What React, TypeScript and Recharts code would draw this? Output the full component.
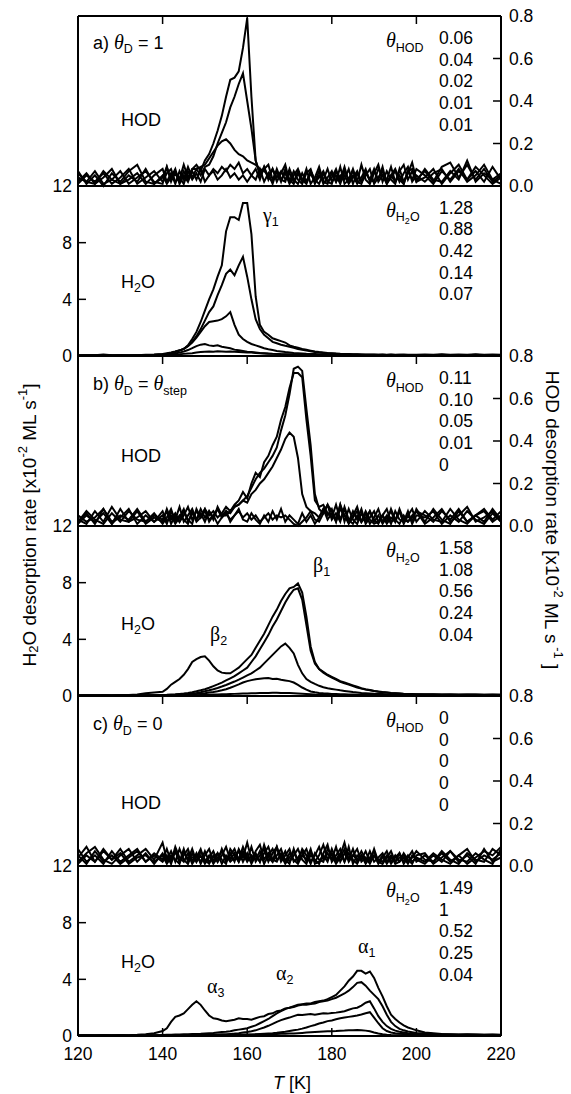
import { LineChart, Line, XAxis, YAxis } from "recharts";

// temperature grid [K]
const temps = [
  120, 122, 124, 126, 128, 130, 132, 134, 136, 138,
  140, 141, 142, 143, 144, 145, 146, 147, 148, 149, 150, 151, 152, 153, 154, 155, 156, 157, 158, 159,
  160, 161, 162, 163, 164, 165, 166, 167, 168, 169, 170, 171, 172, 173, 174, 175, 176, 177, 178, 179,
  180, 181, 182, 183, 184, 185, 186, 187, 188, 189, 190, 191, 192, 193, 194, 195, 196, 197, 198, 199, 200,
  202, 204, 206, 208, 210, 212, 214, 216, 218, 220,
];

// ---- a) theta_D = 1 ----
const aHod1 = [
  0.07, 0.01, 0.05, 0.0, 0.06, 0.02, 0.07, 0.1, 0.02, 0.01,
  0.04, 0.09, 0.02, 0.07, 0.03, 0.1, 0.04, 0.08, 0.1, 0.07, 0.12, 0.15, 0.2, 0.26, 0.33, 0.42, 0.5, 0.51, 0.54, 0.65,
  0.79, 0.42, 0.12, 0.06, 0.08, 0.1, 0.03, 0.07, 0.02, 0.08, 0.03, 0.01, 0.06, 0.02, 0.08, 0.01, 0.04, 0.09, 0.02, 0.01,
  0.06, 0.02, 0.09, 0.01, 0.03, 0.07, 0.02, 0.1, 0.03, 0.01, 0.06, 0.1, 0.02, 0.07, 0.03, 0.01, 0.08, 0.02, 0.06, 0.11, 0.03,
  0.07, 0.02, 0.09, 0.11, 0.04, 0.1, 0.03, 0.08, 0.02, 0.05,
];
const aHod2 = [
  0.02, 0.06, 0.01, 0.04, 0.08, 0.01, 0.03, 0.06, 0.01, 0.05,
  0.08, 0.02, 0.06, 0.01, 0.07, 0.03, 0.09, 0.04, 0.08, 0.05, 0.09, 0.1, 0.14, 0.2, 0.25, 0.3, 0.37, 0.42, 0.48, 0.53,
  0.4, 0.27, 0.12, 0.05, 0.09, 0.03, 0.08, 0.02, 0.06, 0.1, 0.02, 0.07, 0.03, 0.01, 0.06, 0.08, 0.02, 0.04, 0.07, 0.02,
  0.01, 0.07, 0.03, 0.09, 0.02, 0.05, 0.01, 0.04, 0.08, 0.02, 0.07, 0.03, 0.09, 0.01, 0.05, 0.02, 0.07, 0.1, 0.03, 0.07, 0.02,
  0.04, 0.08, 0.01, 0.06, 0.1, 0.03, 0.07, 0.02, 0.09, 0.03,
];
const aHod3 = [
  0.04, 0.02, 0.07, 0.01, 0.03, 0.07, 0.01, 0.04, 0.07, 0.02,
  0.01, 0.09, 0.03, 0.06, 0.02, 0.07, 0.03, 0.08, 0.08, 0.09, 0.1, 0.13, 0.16, 0.19, 0.21, 0.22, 0.2, 0.17, 0.15, 0.14,
  0.12, 0.11, 0.1, 0.08, 0.07, 0.05, 0.08, 0.04, 0.07, 0.03, 0.06, 0.02, 0.07, 0.03, 0.01, 0.06, 0.02, 0.07, 0.01, 0.04,
  0.07, 0.02, 0.05, 0.03, 0.08, 0.01, 0.06, 0.02, 0.07, 0.03, 0.02, 0.08, 0.05, 0.01, 0.04, 0.07, 0.02, 0.06, 0.09, 0.02, 0.05,
  0.02, 0.06, 0.08, 0.02, 0.07, 0.03, 0.09, 0.05, 0.01, 0.04,
];
const aHod4 = [
  0.01, 0.05, 0.02, 0.06, 0.01, 0.04, 0.08, 0.01, 0.04, 0.07,
  0.02, 0.06, 0.08, 0.02, 0.04, 0.01, 0.07, 0.03, 0.06, 0.02, 0.08, 0.05, 0.08, 0.06, 0.09, 0.07, 0.1, 0.08, 0.11, 0.06,
  0.08, 0.05, 0.03, 0.08, 0.02, 0.06, 0.01, 0.07, 0.03, 0.02, 0.08, 0.03, 0.01, 0.06, 0.02, 0.07, 0.03, 0.01, 0.06, 0.02,
  0.04, 0.08, 0.02, 0.05, 0.01, 0.04, 0.07, 0.02, 0.05, 0.08, 0.01, 0.04, 0.07, 0.02, 0.05, 0.08, 0.03, 0.01, 0.07, 0.03, 0.08,
  0.05, 0.01, 0.07, 0.03, 0.08, 0.02, 0.05, 0.1, 0.03, 0.06,
];
const aHod5 = [
  0.06, 0.02, 0.01, 0.07, 0.03, 0.01, 0.05, 0.02, 0.08, 0.01,
  0.05, 0.01, 0.04, 0.08, 0.01, 0.05, 0.02, 0.07, 0.03, 0.08, 0.02, 0.05, 0.07, 0.03, 0.05, 0.08, 0.04, 0.06, 0.03, 0.05,
  0.02, 0.05, 0.08, 0.03, 0.09, 0.04, 0.02, 0.08, 0.03, 0.06, 0.01, 0.05, 0.08, 0.03, 0.02, 0.07, 0.01, 0.05, 0.03, 0.08,
  0.02, 0.05, 0.01, 0.07, 0.03, 0.08, 0.02, 0.01, 0.06, 0.03, 0.08, 0.02, 0.05, 0.03, 0.09, 0.02, 0.05, 0.01, 0.07, 0.08, 0.02,
  0.08, 0.03, 0.02, 0.07, 0.03, 0.12, 0.02, 0.06, 0.03, 0.01,
];
const aH2o1 = [
  0.05, 0.06, 0.05, 0.1, 0.05, 0.04, 0.05, 0.06, 0.08, 0.1,
  0.15, 0.2, 0.25, 0.32, 0.4, 0.5, 0.75, 1.2, 1.7, 2.4, 3.2, 4.0, 4.7, 5.6, 6.4, 8.8, 9.8, 9.8, 9.6, 10.8,
  10.8, 8.6, 4.2, 2.2, 1.7, 1.5, 1.25, 1.15, 1.05, 0.95, 0.75, 0.65, 0.58, 0.5, 0.44, 0.38, 0.32, 0.28, 0.25, 0.22,
  0.2, 0.18, 0.16, 0.15, 0.14, 0.12, 0.12, 0.11, 0.1, 0.1, 0.1, 0.09, 0.1, 0.08, 0.1, 0.09, 0.08, 0.1, 0.08, 0.09, 0.08,
  0.1, 0.08, 0.12, 0.08, 0.1, 0.09, 0.12, 0.08, 0.1, 0.09,
];
const aH2o2 = [
  0.04, 0.05, 0.06, 0.04, 0.05, 0.06, 0.04, 0.05, 0.07, 0.08,
  0.12, 0.16, 0.22, 0.3, 0.4, 0.5, 0.7, 1.0, 1.4, 1.9, 2.5, 3.1, 3.5, 4.3, 5.0, 5.8, 6.1, 5.7, 6.4, 7.0,
  5.6, 4.0, 2.6, 1.9, 1.5, 1.25, 1.0, 0.9, 0.8, 0.72, 0.65, 0.58, 0.5, 0.44, 0.38, 0.33, 0.28, 0.25, 0.22, 0.2,
  0.18, 0.16, 0.15, 0.13, 0.12, 0.11, 0.1, 0.1, 0.09, 0.09, 0.08, 0.09, 0.08, 0.07, 0.08, 0.07, 0.08, 0.07, 0.06, 0.07, 0.06,
  0.07, 0.06, 0.08, 0.06, 0.07, 0.06, 0.08, 0.06, 0.07, 0.06,
];
const aH2o3 = [
  0.03, 0.04, 0.03, 0.04, 0.03, 0.05, 0.03, 0.04, 0.05, 0.06,
  0.1, 0.14, 0.2, 0.28, 0.38, 0.5, 0.7, 0.95, 1.3, 1.7, 2.1, 2.4, 2.45, 2.5, 2.6, 2.8, 3.1, 2.2, 1.5, 1.2,
  1.0, 0.85, 0.75, 0.65, 0.55, 0.48, 0.42, 0.36, 0.32, 0.28, 0.25, 0.22, 0.2, 0.18, 0.16, 0.15, 0.14, 0.13, 0.12, 0.12,
  0.11, 0.1, 0.1, 0.09, 0.09, 0.08, 0.08, 0.07, 0.07, 0.07, 0.06, 0.07, 0.06, 0.06, 0.05, 0.06, 0.05, 0.06, 0.05, 0.05, 0.05,
  0.05, 0.06, 0.05, 0.05, 0.06, 0.05, 0.05, 0.06, 0.05, 0.05,
];
const aH2o4 = [
  0.02, 0.03, 0.02, 0.03, 0.02, 0.03, 0.02, 0.03, 0.03, 0.04,
  0.08, 0.1, 0.14, 0.18, 0.24, 0.32, 0.42, 0.55, 0.7, 0.8, 0.85, 0.75, 0.7, 0.75, 0.65, 0.6, 0.55, 0.45, 0.4, 0.35,
  0.3, 0.28, 0.25, 0.22, 0.2, 0.18, 0.16, 0.15, 0.13, 0.12, 0.11, 0.1, 0.1, 0.09, 0.08, 0.08, 0.07, 0.07, 0.06, 0.06,
  0.06, 0.05, 0.05, 0.05, 0.05, 0.04, 0.05, 0.04, 0.04, 0.05, 0.04, 0.04, 0.04, 0.03, 0.04, 0.04, 0.03, 0.04, 0.03, 0.04, 0.03,
  0.04, 0.03, 0.04, 0.03, 0.04, 0.03, 0.04, 0.03, 0.04, 0.03,
];
const aH2o5 = [
  0.02, 0.02, 0.03, 0.02, 0.02, 0.02, 0.03, 0.02, 0.02, 0.03,
  0.05, 0.06, 0.08, 0.1, 0.12, 0.15, 0.18, 0.2, 0.24, 0.28, 0.3, 0.32, 0.3, 0.33, 0.32, 0.3, 0.32, 0.3, 0.28, 0.26,
  0.25, 0.24, 0.22, 0.2, 0.18, 0.16, 0.15, 0.14, 0.12, 0.11, 0.1, 0.09, 0.09, 0.08, 0.07, 0.07, 0.06, 0.06, 0.05, 0.05,
  0.05, 0.04, 0.04, 0.04, 0.04, 0.03, 0.04, 0.03, 0.03, 0.03, 0.03, 0.03, 0.02, 0.03, 0.02, 0.03, 0.02, 0.03, 0.02, 0.02, 0.02,
  0.02, 0.03, 0.02, 0.02, 0.03, 0.02, 0.02, 0.03, 0.02, 0.02,
];

// ---- b) theta_D = theta_step ----
const bHod1 = [
  0.02, 0.06, 0.01, 0.08, 0.02, 0.04, 0.08, 0.01, 0.05, 0.02,
  0.07, 0.02, 0.05, 0.01, 0.04, 0.08, 0.02, 0.06, 0.03, 0.08, 0.04, 0.07, 0.03, 0.09, 0.05, 0.07, 0.06, 0.09, 0.1, 0.12,
  0.14, 0.18, 0.22, 0.25, 0.27, 0.3, 0.33, 0.37, 0.45, 0.52, 0.62, 0.74, 0.75, 0.73, 0.55, 0.38, 0.15, 0.08, 0.06, 0.1,
  0.07, 0.03, 0.1, 0.02, 0.08, 0.03, 0.01, 0.06, 0.02, 0.07, 0.03, 0.01, 0.05, 0.08, 0.02, 0.03, 0.07, 0.01, 0.05, 0.02, 0.08,
  0.02, 0.08, 0.03, 0.01, 0.07, 0.02, 0.05, 0.08, 0.03, 0.07,
];
const bHod2 = [
  0.03, 0.01, 0.07, 0.02, 0.09, 0.03, 0.02, 0.07, 0.01, 0.04,
  0.02, 0.08, 0.03, 0.06, 0.02, 0.05, 0.09, 0.03, 0.07, 0.04, 0.08, 0.05, 0.07, 0.04, 0.06, 0.09, 0.07, 0.1, 0.12, 0.16,
  0.13, 0.2, 0.25, 0.23, 0.3, 0.33, 0.38, 0.42, 0.5, 0.56, 0.65, 0.72, 0.72, 0.7, 0.5, 0.33, 0.12, 0.09, 0.1, 0.06,
  0.04, 0.1, 0.03, 0.08, 0.02, 0.05, 0.09, 0.02, 0.04, 0.07, 0.02, 0.05, 0.01, 0.04, 0.07, 0.02, 0.08, 0.03, 0.02, 0.05, 0.07,
  0.05, 0.02, 0.07, 0.03, 0.08, 0.02, 0.05, 0.02, 0.08, 0.03,
];
const bHod3 = [
  0.01, 0.05, 0.02, 0.06, 0.01, 0.08, 0.02, 0.04, 0.07, 0.02,
  0.05, 0.01, 0.07, 0.03, 0.09, 0.02, 0.05, 0.08, 0.03, 0.06, 0.02, 0.07, 0.04, 0.08, 0.05, 0.05, 0.07, 0.09, 0.1, 0.12,
  0.11, 0.15, 0.17, 0.2, 0.22, 0.25, 0.28, 0.32, 0.36, 0.41, 0.44, 0.42, 0.32, 0.15, 0.09, 0.07, 0.06, 0.04, 0.08, 0.03,
  0.06, 0.02, 0.08, 0.05, 0.01, 0.04, 0.07, 0.02, 0.06, 0.01, 0.04, 0.08, 0.02, 0.05, 0.01, 0.07, 0.03, 0.02, 0.07, 0.01, 0.05,
  0.04, 0.07, 0.01, 0.05, 0.02, 0.07, 0.03, 0.01, 0.06, 0.02,
];
const bHod4 = [
  0.02, 0.07, 0.03, 0.01, 0.06, 0.02, 0.07, 0.03, 0.02, 0.05,
  0.03, 0.07, 0.01, 0.05, 0.02, 0.07, 0.03, 0.01, 0.08, 0.04, 0.07, 0.03, 0.05, 0.08, 0.04, 0.06, 0.03, 0.05, 0.07, 0.04,
  0.06, 0.03, 0.05, 0.02, 0.04, 0.06, 0.03, 0.05, 0.04, 0.05, 0.03, 0.01, 0.0, 0.02, 0.04, 0.07, 0.03, 0.02, 0.06, 0.1,
  0.03, 0.06, 0.02, 0.09, 0.03, 0.01, 0.05, 0.02, 0.07, 0.03, 0.01, 0.02, 0.05, 0.02, 0.08, 0.03, 0.01, 0.05, 0.02, 0.04, 0.07,
  0.01, 0.04, 0.08, 0.02, 0.05, 0.09, 0.02, 0.04, 0.07, 0.02,
];
const bHod5 = [
  0.05, 0.02, 0.04, 0.08, 0.01, 0.05, 0.03, 0.08, 0.02, 0.06,
  0.01, 0.04, 0.08, 0.02, 0.05, 0.03, 0.01, 0.07, 0.02, 0.04, 0.08, 0.02, 0.05, 0.01, 0.04, 0.07, 0.02, 0.05, 0.08, 0.03,
  0.02, 0.06, 0.03, 0.01, 0.05, 0.02, 0.07, 0.03, 0.08, 0.02, 0.05, 0.03, 0.01, 0.06, 0.02, 0.05, 0.01, 0.04, 0.08, 0.05,
  0.08, 0.02, 0.1, 0.05, 0.02, 0.07, 0.03, 0.08, 0.01, 0.04, 0.07, 0.02, 0.05, 0.01, 0.04, 0.02, 0.07, 0.02, 0.05, 0.08, 0.02,
  0.07, 0.03, 0.02, 0.08, 0.03, 0.01, 0.05, 0.07, 0.02, 0.05,
];
const bH2o1 = [
  0.06, 0.05, 0.06, 0.05, 0.06, 0.05, 0.07, 0.1, 0.2, 0.25,
  0.3, 0.5, 0.8, 1.0, 1.2, 1.5, 1.9, 2.4, 2.6, 2.75, 2.8, 2.5, 2.1, 1.8, 1.65, 1.6, 1.6, 1.8, 2.0, 2.3,
  2.6, 2.9, 3.4, 3.9, 4.4, 5.0, 5.6, 6.1, 6.7, 7.2, 7.6, 7.7, 7.95, 7.3, 5.6, 3.5, 2.4, 1.9, 1.7, 1.5,
  1.35, 1.2, 1.05, 0.95, 0.85, 0.75, 0.65, 0.55, 0.48, 0.42, 0.36, 0.32, 0.28, 0.25, 0.22, 0.2, 0.18, 0.16, 0.15, 0.14, 0.13,
  0.12, 0.12, 0.11, 0.1, 0.11, 0.1, 0.1, 0.09, 0.1, 0.09,
];
const bH2o2 = [
  0.04, 0.05, 0.04, 0.05, 0.04, 0.05, 0.04, 0.05, 0.05, 0.06,
  0.07, 0.08, 0.1, 0.12, 0.15, 0.18, 0.22, 0.27, 0.33, 0.4, 0.48, 0.58, 0.7, 0.82, 0.95, 1.1, 1.25, 1.4, 1.6, 1.8,
  2.0, 2.4, 2.8, 3.3, 3.8, 4.3, 4.9, 5.4, 6.0, 6.6, 7.1, 7.5, 7.6, 6.8, 5.0, 3.2, 2.3, 1.9, 1.65, 1.45,
  1.3, 1.15, 1.0, 0.9, 0.8, 0.7, 0.6, 0.52, 0.45, 0.4, 0.35, 0.3, 0.27, 0.24, 0.21, 0.19, 0.17, 0.15, 0.14, 0.13, 0.12,
  0.11, 0.11, 0.1, 0.1, 0.09, 0.1, 0.09, 0.09, 0.08, 0.09,
];
const bH2o3 = [
  0.03, 0.04, 0.03, 0.04, 0.03, 0.04, 0.03, 0.04, 0.04, 0.05,
  0.05, 0.06, 0.07, 0.08, 0.1, 0.12, 0.15, 0.18, 0.22, 0.27, 0.33, 0.4, 0.48, 0.57, 0.67, 0.78, 0.9, 1.02, 1.15, 1.3,
  1.45, 1.6, 1.8, 2.0, 2.3, 2.6, 2.9, 3.2, 3.5, 3.7, 3.4, 3.0, 2.2, 1.6, 1.2, 1.0, 0.85, 0.72, 0.62, 0.55,
  0.5, 0.45, 0.4, 0.36, 0.32, 0.28, 0.25, 0.22, 0.2, 0.18, 0.16, 0.15, 0.14, 0.13, 0.12, 0.11, 0.1, 0.1, 0.09, 0.09, 0.08,
  0.08, 0.08, 0.07, 0.08, 0.07, 0.07, 0.08, 0.07, 0.07, 0.07,
];
const bH2o4 = [
  0.02, 0.03, 0.02, 0.03, 0.02, 0.03, 0.02, 0.03, 0.03, 0.03,
  0.04, 0.04, 0.05, 0.06, 0.07, 0.08, 0.1, 0.12, 0.14, 0.17, 0.2, 0.24, 0.28, 0.33, 0.4, 0.48, 0.58, 0.7, 0.82, 0.95,
  1.05, 1.12, 1.18, 1.22, 1.25, 1.27, 1.2, 1.22, 1.15, 1.1, 1.05, 0.95, 0.78, 0.6, 0.45, 0.32, 0.26, 0.22, 0.19, 0.17,
  0.15, 0.14, 0.13, 0.12, 0.11, 0.1, 0.09, 0.09, 0.08, 0.08, 0.07, 0.07, 0.07, 0.06, 0.06, 0.06, 0.05, 0.06, 0.05, 0.05, 0.05,
  0.05, 0.05, 0.04, 0.05, 0.04, 0.05, 0.04, 0.05, 0.04, 0.05,
];
const bH2o5 = [
  0.02, 0.02, 0.03, 0.02, 0.02, 0.03, 0.02, 0.02, 0.03, 0.02,
  0.03, 0.03, 0.03, 0.04, 0.04, 0.05, 0.05, 0.06, 0.06, 0.07, 0.08, 0.09, 0.1, 0.11, 0.12, 0.13, 0.14, 0.15, 0.16, 0.17,
  0.18, 0.19, 0.2, 0.21, 0.22, 0.22, 0.23, 0.23, 0.22, 0.22, 0.21, 0.2, 0.18, 0.16, 0.14, 0.12, 0.1, 0.09, 0.08, 0.07,
  0.07, 0.06, 0.06, 0.05, 0.05, 0.05, 0.04, 0.04, 0.04, 0.04, 0.03, 0.04, 0.03, 0.03, 0.03, 0.03, 0.03, 0.02, 0.03, 0.02, 0.03,
  0.02, 0.03, 0.02, 0.02, 0.03, 0.02, 0.02, 0.03, 0.02, 0.02,
];

// ---- c) theta_D = 0 ----
const cHod1 = [
  0.04, 0.09, 0.02, 0.07, 0.03, 0.08, 0.02, 0.05, 0.08, 0.03,
  0.11, 0.03, 0.07, 0.02, 0.08, 0.03, 0.01, 0.06, 0.02, 0.07, 0.03, 0.01, 0.05, 0.02, 0.08, 0.03, 0.06, 0.02, 0.08, 0.04,
  0.11, 0.03, 0.06, 0.02, 0.1, 0.04, 0.02, 0.09, 0.03, 0.07, 0.02, 0.05, 0.08, 0.03, 0.01, 0.07, 0.02, 0.05, 0.1, 0.03,
  0.06, 0.02, 0.05, 0.11, 0.03, 0.08, 0.02, 0.05, 0.01, 0.04, 0.07, 0.02, 0.05, 0.01, 0.04, 0.02, 0.06, 0.01, 0.04, 0.07, 0.02,
  0.05, 0.02, 0.07, 0.03, 0.01, 0.06, 0.03, 0.02, 0.08, 0.05,
];
const cHod2 = [
  0.08, 0.02, 0.05, 0.01, 0.07, 0.02, 0.05, 0.08, 0.02, 0.06,
  0.03, 0.08, 0.02, 0.09, 0.04, 0.02, 0.06, 0.01, 0.04, 0.08, 0.02, 0.05, 0.01, 0.04, 0.07, 0.02, 0.05, 0.08, 0.03, 0.09,
  0.04, 0.02, 0.07, 0.1, 0.03, 0.06, 0.02, 0.05, 0.08, 0.02, 0.06, 0.03, 0.01, 0.05, 0.08, 0.02, 0.05, 0.09, 0.03, 0.06,
  0.03, 0.09, 0.02, 0.06, 0.03, 0.05, 0.08, 0.02, 0.04, 0.01, 0.05, 0.03, 0.02, 0.05, 0.01, 0.04, 0.06, 0.02, 0.05, 0.02, 0.04,
  0.02, 0.06, 0.03, 0.01, 0.05, 0.08, 0.02, 0.05, 0.03, 0.06,
];
const cHod3 = [
  0.02, 0.06, 0.09, 0.03, 0.01, 0.05, 0.08, 0.02, 0.06, 0.01,
  0.06, 0.02, 0.05, 0.03, 0.01, 0.07, 0.03, 0.08, 0.02, 0.05, 0.01, 0.04, 0.07, 0.02, 0.05, 0.09, 0.03, 0.06, 0.02, 0.07,
  0.03, 0.09, 0.02, 0.05, 0.08, 0.02, 0.06, 0.09, 0.02, 0.05, 0.08, 0.02, 0.04, 0.07, 0.02, 0.05, 0.03, 0.01, 0.06, 0.1,
  0.02, 0.05, 0.08, 0.02, 0.06, 0.03, 0.01, 0.05, 0.02, 0.07, 0.02, 0.04, 0.06, 0.02, 0.05, 0.01, 0.02, 0.06, 0.03, 0.01, 0.05,
  0.06, 0.01, 0.04, 0.07, 0.02, 0.05, 0.01, 0.08, 0.02, 0.04,
];
const cHod4 = [
  0.05, 0.01, 0.07, 0.02, 0.05, 0.01, 0.04, 0.07, 0.02, 0.05,
  0.02, 0.05, 0.01, 0.07, 0.02, 0.05, 0.08, 0.02, 0.06, 0.01, 0.05, 0.08, 0.02, 0.06, 0.01, 0.05, 0.02, 0.04, 0.07, 0.02,
  0.06, 0.01, 0.05, 0.02, 0.06, 0.09, 0.03, 0.02, 0.06, 0.03, 0.01, 0.08, 0.02, 0.05, 0.03, 0.08, 0.01, 0.02, 0.05, 0.02,
  0.08, 0.03, 0.06, 0.02, 0.09, 0.01, 0.05, 0.03, 0.07, 0.02, 0.05, 0.01, 0.04, 0.07, 0.02, 0.05, 0.02, 0.04, 0.01, 0.05, 0.03,
  0.01, 0.05, 0.02, 0.07, 0.03, 0.02, 0.06, 0.03, 0.01, 0.08,
];
const cHod5 = [
  0.01, 0.05, 0.02, 0.08, 0.03, 0.06, 0.01, 0.04, 0.05, 0.02,
  0.05, 0.01, 0.04, 0.07, 0.02, 0.08, 0.02, 0.04, 0.05, 0.02, 0.07, 0.02, 0.04, 0.06, 0.03, 0.01, 0.08, 0.05, 0.02, 0.06,
  0.02, 0.05, 0.03, 0.07, 0.01, 0.05, 0.08, 0.03, 0.05, 0.01, 0.04, 0.07, 0.02, 0.08, 0.05, 0.01, 0.06, 0.03, 0.02, 0.08,
  0.05, 0.01, 0.04, 0.08, 0.02, 0.05, 0.03, 0.07, 0.03, 0.02, 0.08, 0.02, 0.01, 0.04, 0.07, 0.02, 0.04, 0.05, 0.02, 0.04, 0.07,
  0.03, 0.02, 0.06, 0.02, 0.05, 0.01, 0.04, 0.07, 0.05, 0.09,
];
const cH2o1 = [
  0.05, 0.05, 0.06, 0.05, 0.06, 0.05, 0.06, 0.08, 0.12, 0.2,
  0.35, 0.55, 1.0, 1.35, 1.45, 1.6, 1.9, 2.2, 2.45, 2.2, 1.8, 1.45, 1.25, 1.2, 1.1, 1.05, 1.1, 1.15, 1.25, 1.2,
  1.2, 1.15, 1.25, 1.35, 1.4, 1.55, 1.6, 1.75, 1.8, 1.95, 2.0, 2.1, 2.2, 2.25, 2.3, 2.3, 2.4, 2.45, 2.5, 2.6,
  2.75, 2.9, 3.2, 3.5, 3.9, 4.2, 4.6, 4.6, 4.4, 4.55, 4.1, 3.4, 2.8, 2.1, 1.5, 1.2, 0.95, 0.75, 0.6, 0.5, 0.4,
  0.25, 0.2, 0.15, 0.12, 0.1, 0.12, 0.1, 0.08, 0.1, 0.08,
];
const cH2o2 = [
  0.04, 0.05, 0.04, 0.05, 0.04, 0.05, 0.04, 0.05, 0.05, 0.06,
  0.07, 0.08, 0.09, 0.1, 0.11, 0.12, 0.13, 0.14, 0.15, 0.16, 0.18, 0.2, 0.22, 0.25, 0.28, 0.3, 0.34, 0.4, 0.45, 0.5,
  0.55, 0.65, 0.75, 0.9, 1.05, 1.2, 1.4, 1.6, 1.75, 1.9, 2.0, 2.05, 2.15, 2.2, 2.2, 2.25, 2.3, 2.4, 2.45, 2.5,
  2.6, 2.7, 2.85, 3.0, 3.2, 3.45, 3.75, 3.8, 3.55, 3.2, 2.9, 2.6, 2.1, 1.5, 1.0, 0.7, 0.5, 0.4, 0.32, 0.27, 0.22,
  0.18, 0.15, 0.12, 0.1, 0.09, 0.1, 0.08, 0.09, 0.08, 0.07,
];
const cH2o3 = [
  0.03, 0.04, 0.03, 0.04, 0.03, 0.04, 0.03, 0.04, 0.03, 0.04,
  0.04, 0.04, 0.05, 0.05, 0.05, 0.06, 0.06, 0.07, 0.07, 0.08, 0.08, 0.09, 0.1, 0.11, 0.12, 0.13, 0.15, 0.17, 0.2, 0.24,
  0.28, 0.33, 0.4, 0.5, 0.6, 0.72, 0.85, 1.0, 1.12, 1.22, 1.3, 1.4, 1.5, 1.48, 1.52, 1.55, 1.5, 1.55, 1.6, 1.58,
  1.62, 1.65, 1.7, 1.75, 1.85, 1.95, 2.0, 2.15, 2.35, 2.45, 1.95, 1.4, 1.0, 0.7, 0.5, 0.38, 0.3, 0.25, 0.2, 0.18, 0.15,
  0.12, 0.1, 0.09, 0.08, 0.08, 0.07, 0.08, 0.07, 0.07, 0.06,
];
const cH2o4 = [
  0.02, 0.03, 0.02, 0.03, 0.02, 0.03, 0.02, 0.03, 0.02, 0.03,
  0.03, 0.03, 0.03, 0.03, 0.04, 0.04, 0.04, 0.04, 0.05, 0.05, 0.05, 0.05, 0.06, 0.06, 0.06, 0.07, 0.07, 0.08, 0.08, 0.09,
  0.1, 0.11, 0.12, 0.14, 0.16, 0.18, 0.2, 0.23, 0.27, 0.3, 0.35, 0.4, 0.45, 0.52, 0.6, 0.7, 0.78, 0.88, 0.95, 1.05,
  1.1, 1.18, 1.25, 1.3, 1.35, 1.4, 1.45, 1.52, 1.6, 1.68, 1.3, 0.9, 0.55, 0.35, 0.25, 0.2, 0.16, 0.14, 0.12, 0.11, 0.1,
  0.09, 0.08, 0.08, 0.07, 0.07, 0.06, 0.07, 0.06, 0.06, 0.06,
];
const cH2o5 = [
  0.02, 0.02, 0.02, 0.03, 0.02, 0.02, 0.02, 0.03, 0.02, 0.02,
  0.02, 0.02, 0.03, 0.03, 0.03, 0.03, 0.03, 0.04, 0.04, 0.04, 0.04, 0.05, 0.05, 0.05, 0.06, 0.06, 0.06, 0.07, 0.07, 0.08,
  0.08, 0.09, 0.1, 0.1, 0.11, 0.12, 0.13, 0.14, 0.15, 0.16, 0.17, 0.18, 0.2, 0.22, 0.24, 0.26, 0.28, 0.3, 0.32, 0.33,
  0.34, 0.35, 0.37, 0.38, 0.4, 0.41, 0.42, 0.41, 0.38, 0.33, 0.25, 0.18, 0.12, 0.09, 0.07, 0.06, 0.05, 0.05, 0.04, 0.04, 0.04,
  0.03, 0.03, 0.03, 0.03, 0.03, 0.03, 0.03, 0.03, 0.03, 0.03,
];

// coverage lists shown at the right of each panel
const covAHod = ["0.06", "0.04", "0.02", "0.01", "0.01"];
const covAH2o = ["1.28", "0.88", "0.42", "0.14", "0.07"];
const covBHod = ["0.11", "0.10", "0.05", "0.01", "0"];
const covBH2o = ["1.58", "1.08", "0.56", "0.24", "0.04"];
const covCHod = ["0", "0", "0", "0", "0"];
const covCH2o = ["1.49", "1", "0.52", "0.25", "0.04"];

const tempTicks = [120, 140, 160, 180, 200, 220];
const h2oTicks = [0, 4, 8, 12];
const hodTicks = [0, 0.2, 0.4, 0.6, 0.8];

const FONT = "'Liberation Sans', Arial, Helvetica, sans-serif";
const SERIF = "'Liberation Serif', 'Times New Roman', serif";
const PANEL_H = 170;
const W = 571;

type Kind = "hod" | "h2o";

function Panel({ kind, top, series, last }: { kind: Kind; top: number; series: number[][]; last?: boolean }) {
  const rows = temps.map((T, i) => {
    const r: Record<string, number> = { T };
    series.forEach((s, k) => (r["s" + k] = s[i]));
    return r;
  });
  const isHod = kind === "hod";
  const padTop = 12;
  const padBottom = last ? 60 : 12;
  const tickStyle = { fontSize: 17.5, fill: "#000", fontFamily: FONT };
  const blank = () => "";
  return (
    <div style={{ position: "absolute", left: 0, top: top - padTop }}>
      <LineChart
        width={W}
        height={PANEL_H + padTop + padBottom}
        data={rows}
        margin={{ top: padTop - 1, right: 10, bottom: last ? padBottom - 1 : padBottom, left: 18 }}
      >
        <XAxis
          xAxisId="top"
          orientation="top"
          dataKey="T"
          type="number"
          domain={[120, 220]}
          ticks={isHod ? tempTicks : [120, 220]}
          interval={0}
          height={1}
          tickSize={-8}
          tickLine={isHod ? { stroke: "#000", strokeWidth: 1.5 } : false}
          axisLine={{ stroke: "#000", strokeWidth: 2 }}
          tickFormatter={blank}
        />
        {last && (
          <XAxis
            xAxisId="bottom"
            orientation="bottom"
            dataKey="T"
            type="number"
            domain={[120, 220]}
            ticks={tempTicks}
            interval={0}
            height={1}
            tickSize={-8}
            tickMargin={20}
            tick={tickStyle}
            tickLine={{ stroke: "#000", strokeWidth: 1.5 }}
            axisLine={{ stroke: "#000", strokeWidth: 2 }}
          />
        )}
        <YAxis
          yAxisId="l"
          orientation="left"
          width={60}
          type="number"
          domain={isHod ? [0, 0.8] : [0, 12]}
          ticks={isHod ? [0, 0.8] : h2oTicks}
          interval={0}
          tickSize={-8}
          tickMargin={14}
          tick={tickStyle}
          tickFormatter={isHod ? blank : (v: number) => String(v)}
          tickLine={isHod ? false : { stroke: "#000", strokeWidth: 1.5 }}
          axisLine={{ stroke: "#000", strokeWidth: 2 }}
        />
        <YAxis
          yAxisId="r"
          orientation="right"
          width={60}
          type="number"
          domain={isHod ? [0, 0.8] : [0, 12]}
          ticks={isHod ? hodTicks : [0, 12]}
          interval={0}
          tickSize={-8}
          tickMargin={16}
          tick={tickStyle}
          tickFormatter={isHod ? (v: number) => v.toFixed(1) : blank}
          tickLine={isHod ? { stroke: "#000", strokeWidth: 1.5 } : false}
          axisLine={{ stroke: "#000", strokeWidth: 2 }}
        />
        {series.map((_, k) => (
          <Line
            key={k}
            xAxisId="top"
            yAxisId={isHod ? "r" : "l"}
            dataKey={"s" + k}
            type="linear"
            stroke="#000"
            strokeWidth={2}
            dot={false}
            isAnimationActive={false}
          />
        ))}
      </LineChart>
    </div>
  );
}

function ThetaLabel({ x, y, sub }: { x: number; y: number; sub: Kind }) {
  return (
    <text x={x} y={y} fontFamily={FONT} fontSize={18}>
      <tspan fontFamily={SERIF} fontStyle="italic" fontSize={20}>θ</tspan>
      {sub === "hod" ? (
        <tspan fontSize={12.5} dy={4.5}>HOD</tspan>
      ) : (
        <>
          <tspan fontSize={12.5} dy={4.5}>H</tspan>
          <tspan fontSize={9} dy={3}>2</tspan>
          <tspan fontSize={12.5} dy={-3}>O</tspan>
        </>
      )}
    </text>
  );
}

function Coverage({ y, kind, values }: { y: number; kind: Kind; values: string[] }) {
  return (
    <g>
      <ThetaLabel x={386} y={y + 3} sub={kind} />
      {values.map((v, i) => (
        <text key={i} x={439} y={y + i * 21.7} fontFamily={FONT} fontSize={17.5}>
          {v}
        </text>
      ))}
    </g>
  );
}

function Peak({ x, y, g, n }: { x: number; y: number; g: string; n: string }) {
  return (
    <text x={x} y={y} fontFamily={SERIF} fontSize={20}>
      {g}
      <tspan fontFamily={FONT} fontSize={12.5} dy={4}>{n}</tspan>
    </text>
  );
}

export default function App() {
  const txt = { fontFamily: FONT, fontSize: 18, fill: "#000" };
  return (
    <div style={{ position: "relative", width: W, height: 1094, background: "#fff" }}>
      <style>{"body{margin:0}"}</style>
      <Panel kind="hod" top={16} series={[aHod1, aHod2, aHod3, aHod4, aHod5]} />
      <Panel kind="h2o" top={186} series={[aH2o1, aH2o2, aH2o3, aH2o4, aH2o5]} />
      <Panel kind="hod" top={356} series={[bHod1, bHod2, bHod3, bHod4, bHod5]} />
      <Panel kind="h2o" top={526} series={[bH2o1, bH2o2, bH2o3, bH2o4, bH2o5]} />
      <Panel kind="hod" top={696} series={[cHod1, cHod2, cHod3, cHod4, cHod5]} />
      <Panel kind="h2o" top={866} series={[cH2o1, cH2o2, cH2o3, cH2o4, cH2o5]} last />

      <svg width={W} height={1094} style={{ position: "absolute", left: 0, top: 0, pointerEvents: "none" }}>
        {/* panel a */}
        <text x={93} y={48.5} {...txt}>
          a){" "}
          <tspan fontFamily={SERIF} fontStyle="italic" fontSize={20}>θ</tspan>
          <tspan fontSize={12.5} dy={4.5}>D</tspan>
          <tspan dy={-4.5}> = 1</tspan>
        </text>
        <text x={121} y={126} {...txt}>HOD</text>
        <Coverage y={44} kind="hod" values={covAHod} />
        <text x={121} y={288} {...txt}>
          H<tspan fontSize={12.5} dy={4}>2</tspan><tspan dy={-4}>O</tspan>
        </text>
        <Peak x={263} y={222} g="γ" n="1" />
        <Coverage y={213.5} kind="h2o" values={covAH2o} />

        {/* panel b */}
        <text x={93} y={390} {...txt}>
          b){" "}
          <tspan fontFamily={SERIF} fontStyle="italic" fontSize={20}>θ</tspan>
          <tspan fontSize={12.5} dy={4.5}>D</tspan>
          <tspan dy={-4.5}> = </tspan>
          <tspan fontFamily={SERIF} fontStyle="italic" fontSize={20}>θ</tspan>
          <tspan fontSize={12.5} dy={4.5}>step</tspan>
        </text>
        <text x={121} y={461.5} {...txt}>HOD</text>
        <Coverage y={384} kind="hod" values={covBHod} />
        <text x={121} y={630} {...txt}>
          H<tspan fontSize={12.5} dy={4}>2</tspan><tspan dy={-4}>O</tspan>
        </text>
        <Peak x={313} y={572} g="β" n="1" />
        <Peak x={210} y={641} g="β" n="2" />
        <Coverage y={554} kind="h2o" values={covBH2o} />

        {/* panel c */}
        <text x={93} y={730} {...txt}>
          c){" "}
          <tspan fontFamily={SERIF} fontStyle="italic" fontSize={20}>θ</tspan>
          <tspan fontSize={12.5} dy={4.5}>D</tspan>
          <tspan dy={-4.5}> = 0</tspan>
        </text>
        <text x={121} y={809} {...txt}>HOD</text>
        <Coverage y={724} kind="hod" values={covCHod} />
        <text x={121} y={968} {...txt}>
          H<tspan fontSize={12.5} dy={4}>2</tspan><tspan dy={-4}>O</tspan>
        </text>
        <Peak x={358} y={953} g="α" n="1" />
        <Peak x={276} y={980} g="α" n="2" />
        <Peak x={207} y={993} g="α" n="3" />
        <Coverage y={894} kind="h2o" values={covCH2o} />

        {/* axis titles */}
        <text
          transform="translate(29,525) rotate(-90)"
          textAnchor="middle"
          dominantBaseline="central"
          fontFamily={FONT}
          fontSize={19}
        >
          H<tspan fontSize={13} dy={4}>2</tspan>
          <tspan dy={-4}>O desorption rate [x10</tspan>
          <tspan fontSize={13} dy={-7}>-2</tspan>
          <tspan dy={7}> ML s</tspan>
          <tspan fontSize={13} dy={-7}>-1</tspan>
          <tspan dy={7}>]</tspan>
        </text>
        <text
          transform="translate(552,520) rotate(90)"
          textAnchor="middle"
          dominantBaseline="central"
          fontFamily={FONT}
          fontSize={19}
        >
          HOD desorption rate [x10
          <tspan fontSize={13} dy={-7}>-2</tspan>
          <tspan dy={7}> ML s</tspan>
          <tspan fontSize={13} dy={-7}> -1</tspan>
          <tspan dy={7}> ]</tspan>
        </text>
        <text x={273} y={1089} fontFamily={FONT} fontSize={18}>
          <tspan fontStyle="italic">T</tspan> [K]
        </text>
      </svg>
    </div>
  );
}
